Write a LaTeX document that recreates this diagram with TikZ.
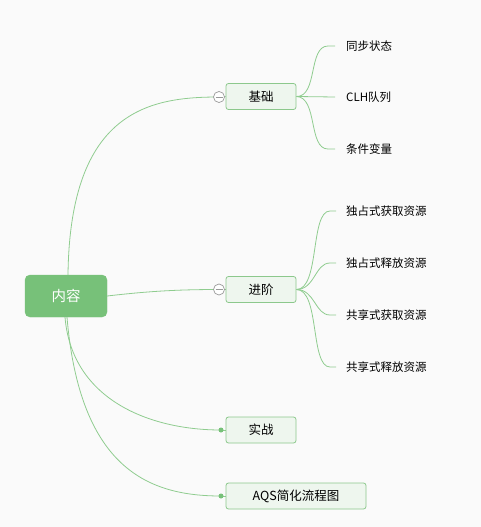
\documentclass[tikz,border=0pt]{standalone}
\usepackage{fontspec}
\setmainfont{Noto Sans CJK SC}
\pgfdeclarelayer{bg}
\pgfdeclarelayer{back}
\pgfsetlayers{back,bg,main}
\begin{document}
\begin{tikzpicture}[x=1pt,y=-1pt,
  link/.style={draw=lineg,line width=0.8pt},
  rootbox/.style={rectangle,rounded corners=5pt,fill=rootg,draw=rootg,text=white,minimum width=82pt,minimum height=42pt,font=\fontsize{14.5}{16}\selectfont},
  topic/.style={rectangle,rounded corners=2.5pt,fill=topicbg,draw=topicbd,line width=0.8pt,minimum height=26pt,font=\fontsize{12.5}{14}\selectfont,inner sep=0pt},
  leaf/.style={anchor=west,inner sep=0pt,font=\fontsize{11.5}{13}\selectfont},
  fold/.style={circle,draw=gray!80,fill=white,line width=0.7pt,minimum size=11pt,inner sep=0pt},
  dotn/.style={circle,fill=rootg,minimum size=5pt,inner sep=0pt}]
\definecolor{rootg}{HTML}{77C179}
\definecolor{lineg}{HTML}{8FCC8F}
\definecolor{topicbg}{HTML}{EEF6EE}
\definecolor{topicbd}{HTML}{8CC88C}
\begin{pgfonlayer}{back}
\fill[white!98!black] (0,0) rectangle (481,527);
\end{pgfonlayer}
\useasboundingbox (0,0) rectangle (481,527);

\node[rootbox] (root) at (66,296) {内容};
\node[topic,minimum width=70pt] (jc) at (261,96.5) {基础};
\node[topic,minimum width=70pt] (jj) at (261,289.5) {进阶};
\node[topic,minimum width=70pt] (sz) at (261,430) {实战};
\node[topic,minimum width=140pt] (aqs) at (296,496) {AQS简化流程图};

\node[fold] (f1) at (219,97) {};
\node[fold] (f2) at (219,289.5) {};
\draw[gray!80,line width=0.7pt] ([xshift=-3.5pt]f1.center) -- ([xshift=3.5pt]f1.center);
\draw[gray!80,line width=0.7pt] ([xshift=-3.5pt]f2.center) -- ([xshift=3.5pt]f2.center);
\node[dotn] (d1) at (221,430) {};
\node[dotn] (d2) at (221,496) {};

% leaves of 基础
\node[leaf] (a1) at (346,46) {同步状态};
\node[leaf] (a2) at (346,97) {CLH队列};
\node[leaf] (a3) at (346,149) {条件变量};
\coordinate (ae1) at (335,46);
\coordinate (ae2) at (335,97);
\coordinate (ae3) at (335,149);

% leaves of 进阶
\node[leaf] (b1) at (346,211) {独占式获取资源};
\node[leaf] (b2) at (346,263) {独占式释放资源};
\node[leaf] (b3) at (346,315) {共享式获取资源};
\node[leaf] (b4) at (346,367) {共享式释放资源};
\coordinate (be1) at (336,211);
\coordinate (be2) at (336,263);
\coordinate (be3) at (336,315);
\coordinate (be4) at (336,367);

\begin{pgfonlayer}{bg}
\draw[link] ([xshift=2pt]root.north) .. controls (70,110) and (150,97) .. (f1.center);
\draw[link] (root.east) .. controls (150,291) and (180,289.5) .. (f2.center);
\draw[link] ([xshift=-1pt]root.south) .. controls (72,400) and (150,430) .. (d1.center);
\draw[link] ([xshift=1pt]root.south) .. controls (80,470) and (150,496) .. (d2.center);
\draw[link] (f1.center) -- (jc.west);
\draw[link] (f2.center) -- (jj.west);
\draw[link] (d1.center) -- (sz.west);
\draw[link] (d2.center) -- (aqs.west);

\draw[link] (jc.east) .. controls (318,97) and (308,46) .. (328,46) -- (ae1);
\draw[link] (jc.east) -- (ae2);
\draw[link] (jc.east) .. controls (318,97) and (308,149) .. (328,149) -- (ae3);

\draw[link] (jj.east) .. controls (320,289.5) and (310,211) .. (330,211) -- (be1);
\draw[link] (jj.east) .. controls (315,289.5) and (315,263) .. (330,263) -- (be2);
\draw[link] (jj.east) .. controls (315,289.5) and (315,315) .. (330,315) -- (be3);
\draw[link] (jj.east) .. controls (320,289.5) and (310,367) .. (330,367) -- (be4);
\end{pgfonlayer}
\end{tikzpicture}
\end{document}
